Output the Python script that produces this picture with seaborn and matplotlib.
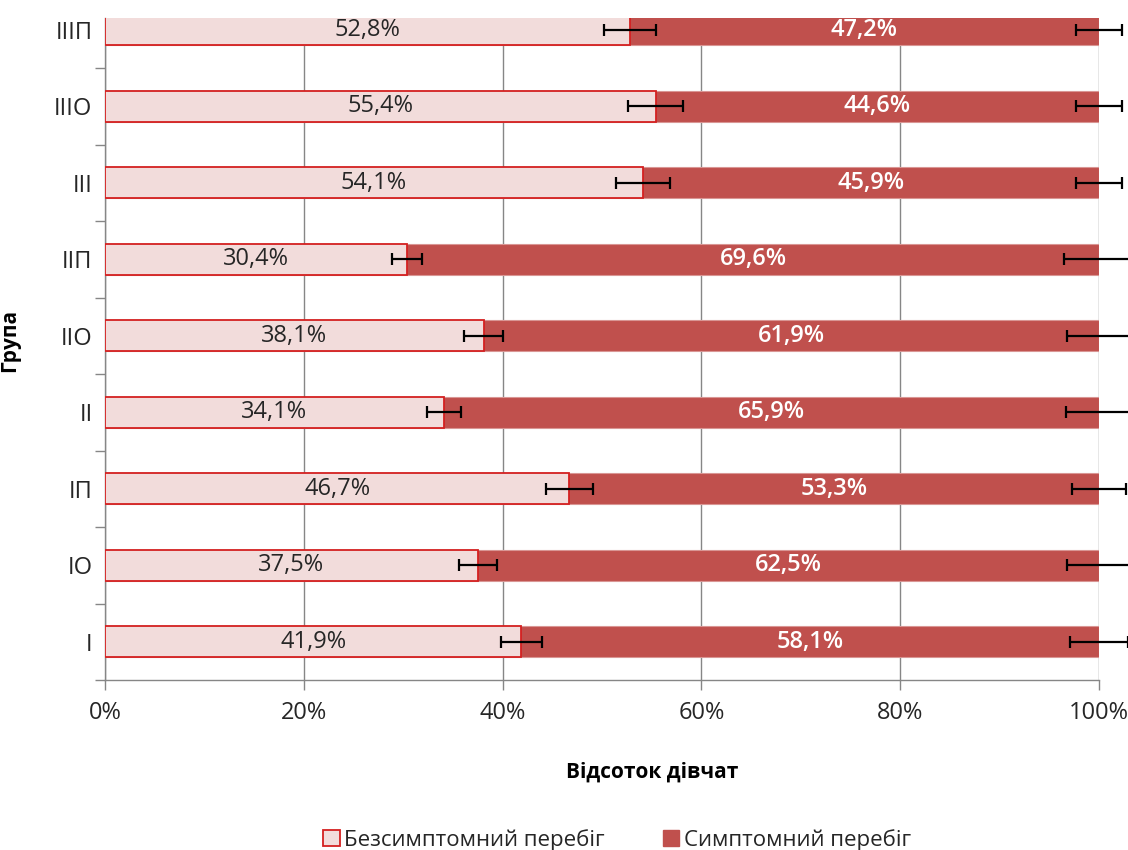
import numpy as np
import pandas as pd
import matplotlib
matplotlib.use("Agg")
import matplotlib.pyplot as plt
import seaborn as sns
from matplotlib.patches import Patch

groups = ["IIIП", "IIIО", "III", "IIП", "IIО", "II", "IП", "IО", "I"]
asym = [52.8, 55.4, 54.1, 30.4, 38.1, 34.1, 46.7, 37.5, 41.9]
sym = [47.2, 44.6, 45.9, 69.6, 61.9, 65.9, 53.3, 62.5, 58.1]
asym_err = [2.6, 2.75, 2.7, 1.5, 1.95, 1.7, 2.35, 1.9, 2.1]
sym_err = [2.35, 2.3, 2.3, 3.5, 3.2, 3.3, 2.7, 3.2, 2.9]
x_ticks = [0, 20, 40, 60, 80, 100]

sns.set_theme(style="white")
plt.rcParams["font.family"] = ["Open Sans", "DejaVu Sans"]

df = pd.DataFrame({"group": groups, "asym": asym, "sym": sym})
df["total"] = df["asym"] + df["sym"]

fig = plt.figure(figsize=(11.28, 8.5), dpi=100)
ax = fig.add_axes([105 / 1128, 1 - 680 / 850, (1099 - 105) / 1128, (680 - 18) / 850])

c_light = "#F2DCDB"
c_edge = "#D42020"
c_dark = "#C0504D"

sns.barplot(data=df, y="group", x="total", order=groups, color=c_dark, width=0.4,
            saturation=1, edgecolor="#D99694", linewidth=0.8, ax=ax, zorder=3)
sns.barplot(data=df, y="group", x="asym", order=groups, color=c_light, width=0.4,
            saturation=1, edgecolor=c_edge, linewidth=1.3, ax=ax, zorder=4)

ypos = np.arange(len(groups))
ax.errorbar(df["asym"], ypos, xerr=asym_err, fmt="none", ecolor="black",
            elinewidth=1.6, capsize=4, capthick=1.6, zorder=6, clip_on=False)
ax.errorbar(df["total"], ypos, xerr=sym_err, fmt="none", ecolor="black",
            elinewidth=1.6, capsize=4, capthick=1.6, zorder=6, clip_on=False)

for i in range(len(groups)):
    a = asym[i]
    s = sym[i]
    ax.text(a / 2, ypos[i], f"{a:.1f}%".replace(".", ","), ha="center", va="center",
            fontsize=17, color="#262626", zorder=7)
    ax.text(a + s / 2, ypos[i], f"{s:.1f}%".replace(".", ","), ha="center", va="center",
            fontsize=17, color="white", fontweight="semibold", zorder=7)

ax.set_xlim(0, 100)
ax.set_ylim(len(groups) - 0.5, -0.154)
ax.set_xticks(x_ticks)
ax.set_xticklabels([f"{t}%" for t in x_ticks], fontsize=17, color="#262626")
ax.set_yticks(ypos)
ax.set_yticklabels(groups, fontsize=17, color="#262626")
ax.set_yticks(np.arange(len(groups)) + 0.5, minor=True)
ax.tick_params(axis="y", which="major", length=0, pad=9)
ax.tick_params(axis="y", which="minor", length=7, width=1, color="#868686", left=True)
ax.tick_params(axis="x", which="major", length=7, width=1, color="#868686", bottom=True, pad=8)

ax.grid(axis="x", color="#868686", linewidth=1, zorder=0)
ax.grid(axis="y", visible=False)
for sp in ["top", "right"]:
    ax.spines[sp].set_visible(False)
for sp in ["left", "bottom"]:
    ax.spines[sp].set_color("#868686")
    ax.spines[sp].set_linewidth(1)

ax.set_xlabel("Відсоток дівчат", fontsize=15, fontweight="bold", color="black")
ax.set_ylabel("Група", fontsize=15, fontweight="bold", color="black")
ax.xaxis.set_label_coords((652 - 105) / 994, -(762 - 680) / 662)
ax.yaxis.set_label_coords(-(105 - 20) / 994, (680 - 340) / 662)

handles = [Patch(facecolor=c_light, edgecolor=c_edge, linewidth=1.3, label="Безсимптомний перебіг"),
           Patch(facecolor=c_dark, edgecolor=c_dark, label="Симптомний перебіг")]
fig.legend(handles=handles, loc="center", bbox_to_anchor=(0.547, 0.012), ncol=2, frameon=False,
           fontsize=16, handlelength=0.75, handleheight=0.75, handletextpad=0.2, columnspacing=2.6)

fig.savefig("out.png", dpi=100)
